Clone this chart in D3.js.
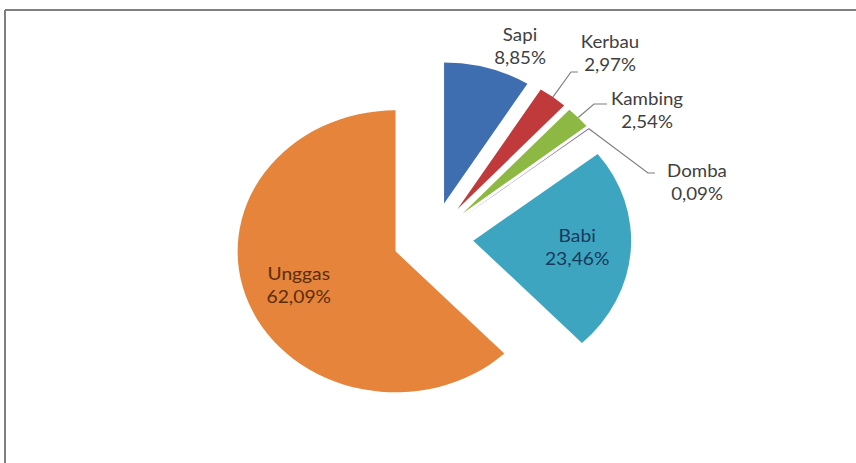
<!DOCTYPE html>
<html>
<head>
<meta charset="utf-8">
<script src="https://cdn.jsdelivr.net/npm/d3@7"></script>
<style>
  body { margin: 0; background: #fff; }
  svg { display: block; }
</style>
</head>
<body>
<div id="chart"></div>
<script>
// data
const categories = ["Sapi", "Kerbau", "Kambing", "Domba", "Babi", "Unggas"];
const values = [8.85, 2.97, 2.54, 0.09, 23.46, 62.09];
const labels = ["8,85%", "2,97%", "2,54%", "0,09%", "23,46%", "62,09%"];
const colors = ["#3e6db0", "#c03a3c", "#8cb843", "#7b5fa0", "#3ea5c0", "#e5843a"];

const width = 856;
const height = 463;
const cx = 433, cy = 238;   // pie center
const r = 141;              // radius (vertical)
const sx = 1.12;            // horizontal stretch of the picture
const explode = 36;

// outside labels get a fixed spot, inside ones use the slice centroid
const outside = {
    "Sapi":    { x: 520, y: 41 },
    "Kerbau":  { x: 610, y: 48, elbow: [571, 72], tick: 578 },
    "Kambing": { x: 647, y: 105, elbow: [594, 104], tick: 607 },
    "Domba":   { x: 697, y: 177, elbow: [648, 173], tick: 655 }
};

const svg = d3.select("#chart").append("svg")
    .attr("width", width)
    .attr("height", height);

// chart frame (only top and left edges visible)
svg.append("line").attr("x1", 5).attr("x2", width).attr("y1", 10).attr("y2", 10)
    .attr("stroke", "#7f7f7f").attr("stroke-width", 2);
svg.append("line").attr("x1", 5).attr("x2", 5).attr("y1", 10).attr("y2", height)
    .attr("stroke", "#7f7f7f").attr("stroke-width", 2);

const pie = d3.pie().sort(null).value(d => d)(values);
const arc = d3.arc().innerRadius(0).outerRadius(r);

function mid(d) { return (d.startAngle + d.endAngle) / 2; }
function offset(d) {
    const a = mid(d);
    return [cx + sx * explode * Math.sin(a), cy - explode * Math.cos(a)];
}

svg.append("g").selectAll("path")
    .data(pie)
    .enter()
    .append("path")
    .attr("transform", d => {
        const o = offset(d);
        return "translate(" + o[0] + "," + o[1] + ") scale(" + sx + ",1)";
    })
    .attr("d", arc)
    .attr("fill", (d, i) => colors[i]);

// leader lines
pie.forEach((d, i) => {
    const o = outside[categories[i]];
    if (!o || !o.elbow) return;
    const c = offset(d);
    const a = mid(d);
    const px = c[0] + sx * r * Math.sin(a);
    const py = c[1] - r * Math.cos(a);
    svg.append("path")
        .attr("d", d3.line()([[px, py], o.elbow, [o.tick, o.elbow[1]]]))
        .attr("fill", "none")
        .attr("stroke", "#7f7f7f")
        .attr("stroke-width", 1.2);
});

// labels
const font = "Lato, 'Open Sans', sans-serif";
pie.forEach((d, i) => {
    const name = categories[i];
    let x, y, fill = "#404040", size = 17;
    if (outside[name]) {
        x = outside[name].x; y = outside[name].y;
    } else {
        const c = offset(d);
        const a = mid(d);
        x = c[0] + sx * r * 0.66 * Math.sin(a);
        y = c[1] - r * 0.66 * Math.cos(a) - 6;
        fill = name === "Babi" ? "#173a5c" : "#5a2c0a";
        size = 17.5;
    }
    const t = svg.append("text")
        .attr("transform", "translate(" + x + "," + y + ") scale(1.1,1)")
        .attr("text-anchor", "middle")
        .style("font-family", font)
        .style("font-size", size + "px")
        .style("fill", fill);
    t.append("tspan").attr("x", 0).attr("y", 0).text(name);
    t.append("tspan").attr("x", 0).attr("y", 23).text(labels[i]);
});
</script>
</body>
</html>
